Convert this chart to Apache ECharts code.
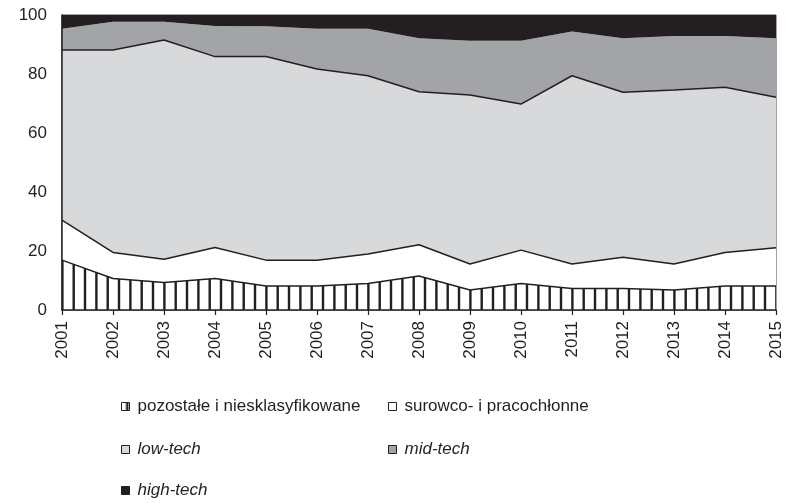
<!DOCTYPE html>
<html>
<head>
<meta charset="utf-8">
<script src="https://cdn.jsdelivr.net/npm/echarts@6/dist/echarts.min.js"></script>
<style>
html,body{margin:0;padding:0;background:#fff;}
#chart{width:787px;height:503px;}
</style>
</head>
<body>
<div id="chart"></div>
<script>
var years = ['2001','2002','2003','2004','2005','2006','2007','2008','2009','2010','2011','2012','2013','2014','2015'];
var pozostale = [16.9, 10.7, 9.3, 10.7, 8.1, 8.1, 9.0, 11.5, 6.8, 9.0, 7.3, 7.3, 6.8, 8.1, 8.1];
var surowco   = [13.6, 8.8, 7.9, 10.5, 8.8, 8.8, 10.0, 10.6, 8.8, 11.3, 8.3, 10.6, 8.8, 11.4, 13.0];
var lowTech   = [57.6, 68.6, 74.3, 64.7, 69.0, 64.8, 60.4, 51.9, 57.3, 49.5, 63.8, 55.9, 59.0, 56.0, 51.0];
var midTech   = [7.2, 9.6, 6.2, 10.4, 10.3, 13.6, 15.9, 18.1, 18.4, 21.5, 15.0, 18.3, 18.3, 17.4, 20.0];
var highTech  = [4.7, 2.3, 2.3, 3.7, 3.8, 4.7, 4.7, 7.9, 8.7, 8.7, 5.6, 7.9, 7.1, 7.1, 7.9];
var yTicks = [0, 20, 40, 60, 80, 100];
var seriesNames = ['pozostałe i niesklasyfikowane', 'surowco- i pracochłonne', 'low-tech', 'mid-tech', 'high-tech'];

var FONT = "'Liberation Sans Narrow', 'Liberation Sans', Arial, sans-serif";
var INK = '#231f20';

// hatch pattern (vertical lines)
var pc = document.createElement('canvas');
pc.width = 34; pc.height = 10;
var pctx = pc.getContext('2d');
pctx.fillStyle = '#ffffff';
pctx.fillRect(0, 0, 34, 10);
pctx.fillStyle = INK;
[4.5, 15.8, 27.2].forEach(function (x) { pctx.fillRect(x, 0, 2.4, 10); });
var hatch = { image: pc, repeat: 'repeat' };

var chart = echarts.init(document.getElementById('chart'), null, { renderer: 'canvas' });

function mkSeries(name, data, color, lineW) {
  return {
    name: name,
    type: 'line',
    stack: 'total',
    data: data,
    symbol: 'none',
    smooth: false,
    lineStyle: { color: INK, width: lineW },
    itemStyle: { color: color, borderColor: INK, borderWidth: 1 },
    areaStyle: { color: color, opacity: 1 },
    z: 2
  };
}

function mkLegend(name, left, top, italic) {
  return {
    left: left, top: top,
    orient: 'horizontal',
    icon: 'rect',
    itemWidth: 8, itemHeight: 8,
    itemGap: 0,
    selectedMode: false,
    itemStyle: { borderColor: INK, borderWidth: 1 },
    textStyle: { fontFamily: FONT, fontSize: 17, color: INK, fontStyle: italic ? 'italic' : 'normal', padding: [0, 0, 0, 3] },
    data: [name]
  };
}

var option = {
  animation: false,
  backgroundColor: '#ffffff',
  grid: { left: 62, right: 11, top: 15, bottom: 193, show: true, borderColor: '#444', borderWidth: 1, backgroundColor: 'transparent', containLabel: false },
  legend: [
    mkLegend(seriesNames[0], 116, 393, false),
    mkLegend(seriesNames[1], 383, 393, false),
    mkLegend(seriesNames[2], 116, 436, true),
    mkLegend(seriesNames[3], 383, 436, true),
    mkLegend(seriesNames[4], 116, 477, true)
  ],
  xAxis: {
    type: 'category',
    data: years,
    boundaryGap: false,
    axisLine: { show: true, lineStyle: { color: INK, width: 1.5 } },
    axisTick: { show: true, length: 5, lineStyle: { color: INK, width: 1.2 } },
    axisLabel: { rotate: 90, margin: 11, fontFamily: FONT, fontSize: 17, color: INK },
    splitLine: { show: false },
    z: 10
  },
  yAxis: {
    type: 'value',
    min: yTicks[0], max: yTicks[yTicks.length - 1], interval: 20,
    axisLine: { show: true, lineStyle: { color: INK, width: 1.5 } },
    axisTick: { show: false },
    axisLabel: { margin: 15, fontFamily: FONT, fontSize: 17, color: INK, padding: [5, 0, 0, 0] },
    splitLine: { show: false },
    z: 10
  },
  series: [
    mkSeries(seriesNames[0], pozostale, hatch, 1.5),
    mkSeries(seriesNames[1], surowco, '#ffffff', 1.5),
    mkSeries(seriesNames[2], lowTech, '#d8d9db', 1.5),
    mkSeries(seriesNames[3], midTech, '#a3a4a8', 0),
    mkSeries(seriesNames[4], highTech, INK, 0)
  ]
};
chart.setOption(option);
</script>
</body>
</html>
